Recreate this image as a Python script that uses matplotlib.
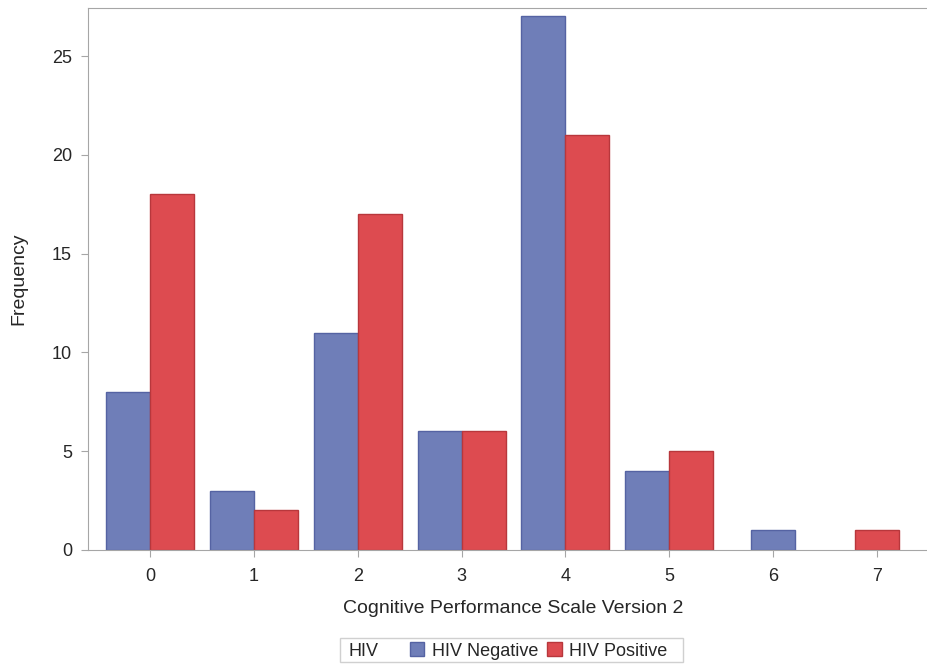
import matplotlib.pyplot as plt
import numpy as np
from matplotlib.patches import Patch, Rectangle

plt.rcParams['font.family'] = ['Liberation Sans', 'DejaVu Sans']

scores = [0, 1, 2, 3, 4, 5, 6, 7]
hiv_negative = [8, 3, 11, 6, 27, 4, 1, 0]
hiv_positive = [18, 2, 17, 6, 21, 5, 0, 1]

neg_color = '#6f7eb8'
neg_edge = '#5563a3'
pos_color = '#dd4b50'
pos_edge = '#b8373c'
axis_gray = '#a6a6a6'
text_color = '#262626'

fig = plt.figure(figsize=(9.27, 6.64), dpi=100)
ax = fig.add_axes([88 / 927, 1 - 550 / 664, 851 / 927, 542 / 664])

w = 0.423
# clustered bars; a group with only one non-zero count gets a centred bar
for s, neg, pos in zip(scores, hiv_negative, hiv_positive):
    if neg and pos:
        ax.bar(s - w / 2, neg, w, color=neg_color, edgecolor=neg_edge, linewidth=1)
        ax.bar(s + w / 2, pos, w, color=pos_color, edgecolor=pos_edge, linewidth=1)
    elif neg:
        ax.bar(s, neg, w, color=neg_color, edgecolor=neg_edge, linewidth=1)
    elif pos:
        ax.bar(s, pos, w, color=pos_color, edgecolor=pos_edge, linewidth=1)

ax.set_xlim(-0.596, 7.596)
ax.set_ylim(0, 27.43)
ax.set_xticks(scores)
ax.set_yticks([0, 5, 10, 15, 20, 25])
for sp in ax.spines.values():
    sp.set_color(axis_gray)
ax.tick_params(colors=axis_gray, labelcolor=text_color, labelsize=13, length=5)
ax.tick_params(axis='x', pad=8)
ax.tick_params(axis='y', pad=6.5)

ax.set_xlabel('Cognitive Performance Scale Version 2', fontsize=14, color=text_color, labelpad=11)
ax.set_ylabel('Frequency', fontsize=14, color=text_color, labelpad=18)

# legend box along the bottom
fig.patches.append(Rectangle((340 / 927, 1 - 662 / 664), 343 / 927, 24 / 664,
                             transform=fig.transFigure, facecolor='white',
                             edgecolor='#d0d0d0', linewidth=1))
fig.text(348 / 927, 1 - 651 / 664, 'HIV', fontsize=13, color=text_color, va='center')
handles = [Patch(facecolor=neg_color, edgecolor=neg_edge, label='HIV Negative'),
           Patch(facecolor=pos_color, edgecolor=pos_edge, label='HIV Positive')]
fig.legend(handles=handles, loc='center left', bbox_to_anchor=(410 / 927, 1 - 651 / 664),
           ncol=2, frameon=False, fontsize=13, handlelength=0.78, handleheight=0.78,
           handletextpad=0.44, columnspacing=0.5, labelcolor=text_color,
           borderpad=0, borderaxespad=0)

fig.savefig('out.png', dpi=100)
